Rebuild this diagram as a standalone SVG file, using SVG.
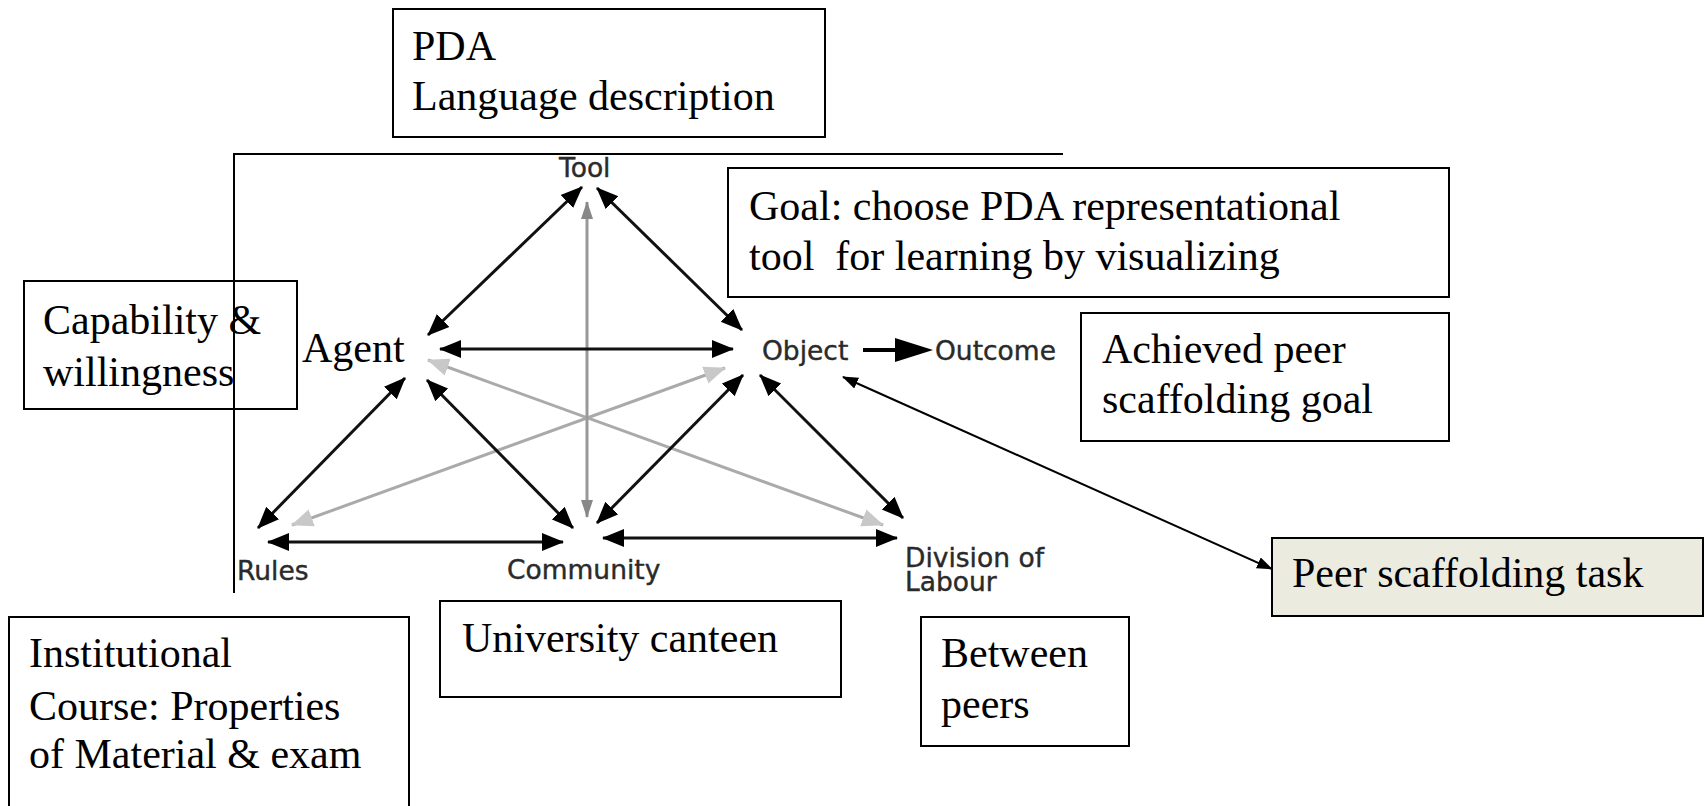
<svg xmlns="http://www.w3.org/2000/svg" width="1705" height="806" viewBox="0 0 1705 806">
<style>
.box{fill:#fff;stroke:#000;stroke-width:2}
.t{font-family:"Liberation Serif","Times New Roman",serif;font-size:42px;fill:#000;white-space:pre}
.s{font-family:"DejaVu Sans",Verdana,sans-serif;font-size:26.5px;fill:#2a2a2a;stroke:#2a2a2a;stroke-width:0.4}
.blk{stroke:#111;stroke-width:3;fill:none;marker-start:url(#ab);marker-end:url(#ab)}
.gry{stroke:#999;stroke-width:3;fill:none;marker-start:url(#ag);marker-end:url(#ag)}
.lgr{stroke:#aaa;stroke-width:3;fill:none;marker-start:url(#al);marker-end:url(#al)}
.frame{stroke:#000;stroke-width:2;fill:none}
</style>
<defs>
<marker id="ab" markerUnits="userSpaceOnUse" markerWidth="22" markerHeight="20" refX="21" refY="9" orient="auto-start-reverse" viewBox="0 0 22 18"><path d="M0,0 L22,9 L0,18 Z" fill="#000"/></marker>
<marker id="ag" markerUnits="userSpaceOnUse" markerWidth="18" markerHeight="14" refX="17" refY="6" orient="auto-start-reverse" viewBox="0 0 18 12"><path d="M0,0 L18,6 L0,12 Z" fill="#888"/></marker>
<marker id="al" markerUnits="userSpaceOnUse" markerWidth="22" markerHeight="20" refX="21" refY="9" orient="auto-start-reverse" viewBox="0 0 22 18"><path d="M0,0 L22,9 L0,18 Z" fill="#c8c8c8"/></marker>
<marker id="at" markerUnits="userSpaceOnUse" markerWidth="16" markerHeight="14" refX="15" refY="6" orient="auto-start-reverse" viewBox="0 0 16 12"><path d="M0,0 L16,6 L0,12 Z" fill="#000"/></marker>
</defs>
<rect width="1705" height="806" fill="#fff"/>

<g id="frame">
<path class="frame" d="M234,593 L234,154 L1063,154"/>
</g>

<g id="connectors">
<line class="lgr" x1="428" y1="360" x2="883" y2="525"/>
<line class="lgr" x1="292" y1="525" x2="725" y2="368"/>
<line class="gry" x1="587" y1="202" x2="587" y2="517"/>
<line class="blk" x1="582" y1="187" x2="428" y2="335"/>
<line class="blk" x1="597" y1="188" x2="742" y2="330"/>
<line class="blk" x1="440" y1="349" x2="733" y2="349"/>
<line class="blk" x1="405" y1="378" x2="258" y2="528"/>
<line class="blk" x1="427" y1="380" x2="573" y2="528"/>
<line class="blk" x1="743" y1="375" x2="597" y2="523"/>
<line class="blk" x1="760" y1="375" x2="903" y2="518"/>
<line class="blk" x1="268" y1="542" x2="563" y2="542"/>
<line class="blk" x1="603" y1="538" x2="897" y2="538"/>
<path d="M863,350 L900,350" stroke="#000" stroke-width="4"/>
<path d="M895,338 L933,350 L895,362 Z" fill="#000"/>
<line x1="843" y1="377" x2="1272" y2="569" stroke="#000" stroke-width="2" marker-start="url(#at)" marker-end="url(#at)"/>
</g>

<g id="tool"><text class="s" x="559" y="177">Tool</text></g>
<g id="object"><text class="s" x="762" y="360">Object</text></g>
<g id="outcome"><text class="s" x="935" y="360">Outcome</text></g>
<g id="rules"><text class="s" x="237" y="580">Rules</text></g>
<g id="community"><text class="s" x="507" y="579">Community</text></g>
<g id="division"><text class="s" x="905" y="567">Division of</text><text class="s" x="905" y="591">Labour</text></g>
<g id="agent"><text class="t" x="302" y="362">Agent</text></g>

<g id="pda">
<rect class="box" x="393" y="9" width="432" height="128"/>
<text class="t" x="412" y="60">PDA</text>
<text class="t" x="412" y="110">Language description</text>
</g>

<g id="goal">
<rect class="box" x="728" y="168" width="721" height="129"/>
<text class="t" x="749" y="220">Goal: choose PDA representational</text>
<text class="t" x="749" y="270" xml:space="preserve">tool  for learning by visualizing</text>
</g>

<g id="achieved">
<rect class="box" x="1081" y="313" width="368" height="128"/>
<text class="t" x="1102" y="363">Achieved peer</text>
<text class="t" x="1102" y="413">scaffolding goal</text>
</g>

<g id="capability">
<rect x="24" y="281" width="273" height="128" fill="none" stroke="#000" stroke-width="2"/>
<text class="t" x="43" y="334">Capability &amp;</text>
<text class="t" x="43" y="386">willingness</text>
</g>

<g id="institutional">
<rect class="box" x="9" y="617" width="400" height="200"/>
<text class="t" x="29" y="667">Institutional</text>
<text class="t" x="29" y="720">Course: Properties</text>
<text class="t" x="29" y="768">of Material &amp; exam</text>
</g>

<g id="canteen">
<rect class="box" x="440" y="601" width="401" height="96"/>
<text class="t" x="462" y="652">University canteen</text>
</g>

<g id="between">
<rect class="box" x="921" y="617" width="208" height="129"/>
<text class="t" x="941" y="667">Between</text>
<text class="t" x="941" y="718">peers</text>
</g>

<g id="peertask">
<rect x="1272" y="538" width="431" height="78" fill="#ecebe0" stroke="#000" stroke-width="2"/>
<text class="t" x="1292" y="587">Peer scaffolding task</text>
</g>
</svg>
